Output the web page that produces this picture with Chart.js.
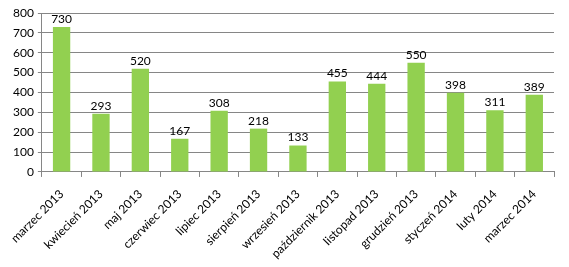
<!DOCTYPE html>
<html><head><meta charset="utf-8">
<script src="https://cdn.jsdelivr.net/npm/chart.js@4/dist/chart.umd.min.js"></script>
<style>html,body{margin:0;padding:0;background:#fff;}#wrap{width:569px;height:267px;}</style>
</head><body><div id="wrap"><canvas id="c" width="569" height="267"></canvas></div>
<script>
const categories = ["marzec 2013","kwiecień 2013","maj 2013","czerwiec 2013","lipiec 2013","sierpień 2013","wrzesień 2013","październik 2013","listopad 2013","grudzień 2013","styczeń 2014","luty 2014","marzec 2014"];
const values = [730,293,520,167,308,218,133,455,444,550,398,311,389];
const yTicks = [0,100,200,300,400,500,600,700,800];

const FONT = "Lato, 'Liberation Sans', sans-serif";
const labelPlugin = {
  id: 'vals',
  afterDatasetsDraw(chart) {
    const ctx = chart.ctx;
    const meta = chart.getDatasetMeta(0);
    ctx.save();
    ctx.font = "12px " + FONT;
    ctx.fillStyle = "#000";
    ctx.textAlign = "center";
    ctx.textBaseline = "bottom";
    meta.data.forEach((bar, i) => {
      ctx.fillText(String(values[i]), bar.x, bar.y - 2);
    });
    ctx.restore();
  }
};

new Chart(document.getElementById('c'), {
  type: 'bar',
  data: {
    labels: categories,
    datasets: [{
      data: values,
      backgroundColor: '#92D050',
      borderWidth: 0,
      categoryPercentage: 1.0,
      barPercentage: 0.44
    }]
  },
  options: {
    responsive: false,
    animation: false,
    devicePixelRatio: 1,
    layout: { padding: { left: 9, right: 15, top: 13, bottom: -4 } },
    plugins: { legend: { display: false }, tooltip: { enabled: false } },
    scales: {
      x: {
        grid: { display: true, drawOnChartArea: false, drawTicks: true, tickLength: 5, color: '#868686', offset: true },
        border: { display: true, color: '#868686' },
        ticks: { minRotation: 45, maxRotation: 45, color: '#000', font: { family: FONT, size: 12 }, padding: 10, autoSkip: false }
      },
      y: {
        min: 0, max: 800,
        afterBuildTicks(axis) { axis.ticks = yTicks.map(v => ({ value: v })); },
        grid: { color: '#868686', tickLength: 4 },
        border: { display: true, color: '#868686' },
        ticks: { color: '#000', font: { family: FONT, size: 12 }, padding: 4 }
      }
    }
  },
  plugins: [labelPlugin]
});
</script></body></html>
